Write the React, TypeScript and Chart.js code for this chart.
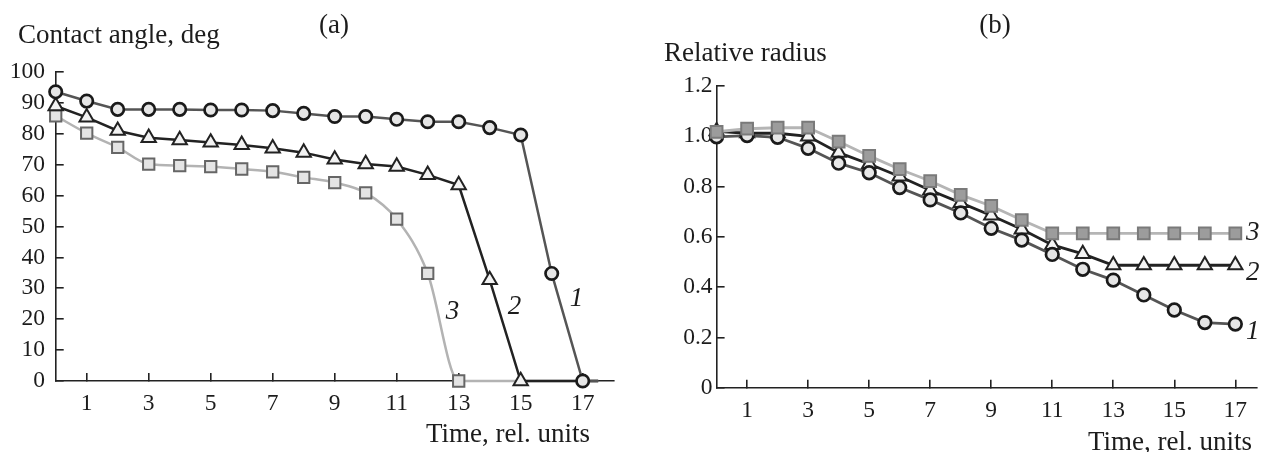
import React, { useEffect, useRef } from 'react';
import { Chart, registerables } from 'chart.js';

Chart.register(...registerables);

const FONT = '"Liberation Serif", "Times New Roman", serif';
const INK = '#1c1c1c';
const AXIS = '#222222';

// ---------- Panel (a): contact angle ----------
const timeA1 = [0, 1, 2, 3, 4, 5, 6, 7, 8, 9, 10, 11, 12, 13, 14, 15, 16, 17];
const angle1 = [93.6, 90.6, 87.9, 87.9, 87.9, 87.7, 87.7, 87.5, 86.6, 85.6, 85.6, 84.7, 83.9, 83.9, 82.0, 79.6, 34.8, 0];
const timeA2 = [0, 1, 2, 3, 4, 5, 6, 7, 8, 9, 10, 11, 12, 13, 14, 15];
const angle2 = [89.0, 85.3, 81.0, 78.7, 78.0, 77.2, 76.4, 75.3, 73.9, 71.7, 70.2, 69.4, 66.7, 63.4, 32.7, 0];
const timeA3 = [0, 1, 2, 3, 4, 5, 6, 7, 8, 9, 10, 11, 12, 13];
const angle3 = [85.8, 80.2, 75.6, 70.2, 69.7, 69.4, 68.6, 67.7, 65.9, 64.2, 60.9, 52.4, 34.8, 0];
const tailTime = 17.5;
const xTicks = [1, 3, 5, 7, 9, 11, 13, 15, 17];
const yTicksA = [0, 10, 20, 30, 40, 50, 60, 70, 80, 90, 100];

// ---------- Panel (b): relative radius ----------
const timeB = [0, 1, 2, 3, 4, 5, 6, 7, 8, 9, 10, 11, 12, 13, 14, 15, 16, 17];
const radius1 = [0.998, 1.003, 0.996, 0.952, 0.893, 0.855, 0.796, 0.747, 0.695, 0.634, 0.587, 0.530, 0.471, 0.428, 0.369, 0.309, 0.259, 0.253];
const radius2 = [1.02, 1.012, 1.012, 1.0, 0.935, 0.89, 0.84, 0.785, 0.735, 0.685, 0.63, 0.568, 0.532, 0.487, 0.487, 0.487, 0.487, 0.487];
const radius3 = [1.018, 1.030, 1.034, 1.034, 0.979, 0.922, 0.869, 0.822, 0.767, 0.723, 0.667, 0.614, 0.614, 0.614, 0.614, 0.614, 0.614, 0.614];
const yTicksB = [0, 0.2, 0.4, 0.6, 0.8, 1.0, 1.2];

const toPts = (xs: number[], ys: number[]) => xs.map((x, i) => ({ x, y: ys[i] }));
const withTail = (xs: number[], ys: number[]) => [...toPts(xs, ys), { x: tailTime, y: 0 }];
const radii = (n: number, r: number, tail: boolean) => {
  const a = new Array(n).fill(r);
  if (tail) a[n - 1] = 0;
  return a;
};

const textPlugin = {
  id: 'texts',
  afterDraw(chart: any, _args: any, opts: any) {
    const ctx = chart.ctx;
    ctx.save();
    for (const t of opts.items || []) {
      let x = t.x;
      let y = t.y;
      if (t.data) {
        x = chart.scales.x.getPixelForValue(t.x);
        y = chart.scales.y.getPixelForValue(t.y);
      }
      ctx.font = `${t.italic ? 'italic ' : ''}${t.size}px ${FONT}`;
      ctx.fillStyle = INK;
      ctx.textAlign = t.align || 'left';
      ctx.textBaseline = t.baseline || 'alphabetic';
      ctx.fillText(t.text, x, y);
    }
    ctx.restore();
  },
};

function axisCommon(ticks: number[], fmt: (v: number) => string, pad: number, size: (s: any) => void) {
  return {
    type: 'linear' as const,
    afterBuildTicks: (s: any) => {
      s.ticks = ticks.map((v) => ({ value: v }));
    },
    afterFit: size,
    border: { display: true, color: AXIS, width: 1.6 },
    grid: { display: true, drawOnChartArea: false, drawTicks: true, tickLength: -8, color: AXIS, lineWidth: 1.6 },
    ticks: {
      color: INK,
      font: { family: FONT, size: 23.5 },
      padding: pad,
      autoSkip: false,
      maxRotation: 0,
      callback: (v: any) => fmt(Number(v)),
    },
  };
}

function configA(): any {
  const d1 = withTail(timeA1, angle1);
  const d2 = withTail(timeA2, angle2);
  const d3 = withTail(timeA3, angle3);
  return {
    type: 'line',
    data: {
      datasets: [
        {
          data: d1,
          order: 0,
          borderColor: '#555555',
          borderWidth: 2.5,
          pointStyle: 'circle',
          pointRadius: radii(d1.length, 6.2, true),
          pointBorderWidth: 2.7,
          pointBorderColor: '#1a1a1a',
          pointBackgroundColor: '#e6e6e6',
          tension: 0,
          clip: false,
        },
        {
          data: d2,
          order: 1,
          borderColor: '#222222',
          borderWidth: 2.5,
          pointStyle: 'triangle',
          pointRadius: radii(d2.length, 8.3, true),
          pointBorderWidth: 2,
          pointBorderColor: '#222222',
          pointBackgroundColor: '#f2f2f2',
          tension: 0,
          clip: false,
        },
        {
          data: d3,
          order: 2,
          borderColor: '#b3b3b3',
          borderWidth: 2.5,
          pointStyle: 'rect',
          pointRadius: radii(d3.length, 8, true),
          pointBorderWidth: 2,
          pointBorderColor: '#666666',
          pointBackgroundColor: '#e4e4e4',
          cubicInterpolationMode: 'monotone',
          clip: false,
        },
      ],
    },
    options: {
      animation: false,
      responsive: false,
      layout: { padding: { left: 0, right: 26.3, top: 72, bottom: 31 } },
      plugins: {
        legend: { display: false },
        tooltip: { enabled: false },
        texts: {
          items: [
            { text: '(a)', x: 334, y: 33, size: 27, align: 'center' },
            { text: 'Contact angle, deg', x: 18, y: 43, size: 27, align: 'left' },
            { text: 'Time, rel. units', x: 590, y: 442, size: 27, align: 'right' },
            { text: '1', x: 16.8, y: 26.5, data: true, size: 27, italic: true, align: 'center', baseline: 'middle' },
            { text: '2', x: 14.8, y: 24, data: true, size: 27, italic: true, align: 'center', baseline: 'middle' },
            { text: '3', x: 12.8, y: 22.5, data: true, size: 27, italic: true, align: 'center', baseline: 'middle' },
          ],
        },
      },
      scales: {
        x: { ...axisCommon(xTicks, (v) => String(v), 17, (s: any) => { s.height = 40; }), min: 0, max: 18 },
        y: { ...axisCommon(yTicksA, (v) => String(v), 18.7, (s: any) => { s.width = 55.7; }), min: 0, max: 100 },
      },
    },
    plugins: [textPlugin],
  };
}

function configB(): any {
  const d1 = toPts(timeB, radius1);
  const d2 = toPts(timeB, radius2);
  const d3 = toPts(timeB, radius3);
  return {
    type: 'line',
    data: {
      datasets: [
        {
          data: d3,
          order: 0,
          borderColor: '#b5b5b5',
          borderWidth: 2.8,
          pointStyle: 'rect',
          pointRadius: 8.3,
          pointBorderWidth: 2,
          pointBorderColor: '#7a7a7a',
          pointBackgroundColor: '#9c9c9c',
          tension: 0,
          clip: false,
        },
        {
          data: d1,
          order: 1,
          borderColor: '#555555',
          borderWidth: 2.8,
          pointStyle: 'circle',
          pointRadius: 6.3,
          pointBorderWidth: 2.7,
          pointBorderColor: '#1a1a1a',
          pointBackgroundColor: '#e6e6e6',
          tension: 0,
          clip: false,
        },
        {
          data: d2,
          order: 2,
          borderColor: '#222222',
          borderWidth: 2.8,
          pointStyle: 'triangle',
          pointRadius: 8.2,
          pointBorderWidth: 2,
          pointBorderColor: '#222222',
          pointBackgroundColor: '#f4f4f4',
          tension: 0,
          clip: false,
        },
      ],
    },
    options: {
      animation: false,
      responsive: false,
      layout: { padding: { left: 0, right: 0, top: 86, bottom: 24.3 } },
      plugins: {
        legend: { display: false },
        tooltip: { enabled: false },
        texts: {
          items: [
            { text: '(b)', x: 355, y: 33, size: 27, align: 'center' },
            { text: 'Relative radius', x: 24, y: 61, size: 27, align: 'left' },
            { text: 'Time, rel. units', x: 612, y: 450, size: 27, align: 'right' },
            { text: '3', x: 17.35, y: 0.614, data: true, size: 27, italic: true, align: 'left', baseline: 'middle' },
            { text: '2', x: 17.35, y: 0.455, data: true, size: 27, italic: true, align: 'left', baseline: 'middle' },
            { text: '1', x: 17.35, y: 0.22, data: true, size: 27, italic: true, align: 'left', baseline: 'middle' },
          ],
        },
      },
      scales: {
        x: { ...axisCommon(xTicks, (v) => String(v), 17, (s: any) => { s.height = 40; }), min: 0, max: 17.7 },
        y: {
          ...axisCommon(yTicksB, (v) => (v === 0 ? '0' : v.toFixed(1)), 12, (s: any) => { s.width = 76.6; }),
          min: 0,
          max: 1.2,
        },
      },
    },
    plugins: [textPlugin],
  };
}

function Panel({ left, width, make }: { left: number; width: number; make: () => any }) {
  const ref = useRef<HTMLCanvasElement>(null);
  useEffect(() => {
    const chart = new Chart(ref.current as HTMLCanvasElement, make());
    return () => chart.destroy();
  }, []);
  return (
    <div style={{ position: 'absolute', left, top: 0, width, height: 452 }}>
      <canvas ref={ref} width={width} height={452} style={{ display: 'block', width, height: 452 }} />
    </div>
  );
}

export default function App() {
  return (
    <div style={{ position: 'absolute', left: 0, top: 0, width: 1267, height: 452, background: '#ffffff', overflow: 'hidden' }}>
      <Panel left={0} width={640} make={configA} />
      <Panel left={640} width={627} make={configB} />
    </div>
  );
}
